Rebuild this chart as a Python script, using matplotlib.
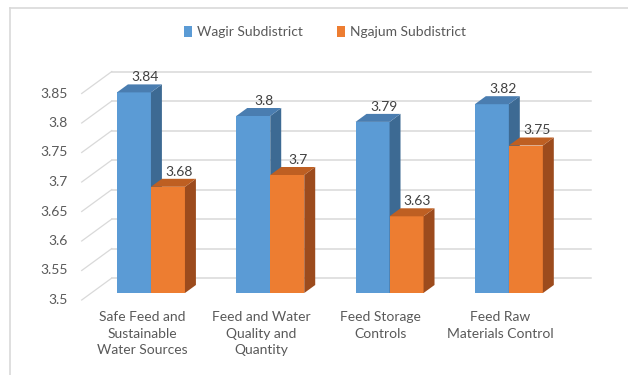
import matplotlib
matplotlib.use("Agg")
import matplotlib.pyplot as plt
from matplotlib.patches import Polygon, Patch
from matplotlib.lines import Line2D
from matplotlib.transforms import IdentityTransform
import numpy as np

plt.rcParams['font.family'] = ['Lato', 'DejaVu Sans']

# data
categories = ["Safe Feed and\nSustainable\nWater Sources",
              "Feed and Water\nQuality and\nQuantity",
              "Feed Storage\nControls",
              "Feed Raw\nMaterials Control"]
series_names = ["Wagir Subdistrict", "Ngajum Subdistrict"]
wagir = [3.84, 3.80, 3.79, 3.82]
ngajum = [3.68, 3.70, 3.63, 3.75]
value_labels = [["3.84", "3.8", "3.79", "3.82"], ["3.68", "3.7", "3.63", "3.75"]]
yticks = [3.5, 3.55, 3.6, 3.65, 3.7, 3.75, 3.8, 3.85]
ytick_labels = ["3.5", "3.55", "3.6", "3.65", "3.7", "3.75", "3.8", "3.85"]

# colours: front, side, top
blue = ("#5B9BD5", "#3D6A93", "#4A7DB0")
orange = ("#ED7D31", "#9C4B1D", "#BE5F22")
grid_c = "#D9D9D9"
text_c = "#595959"

W, H = 628, 375
fig = plt.figure(figsize=(W / 100, H / 100), dpi=100)

# axes = front plane of the bars (pixels)
base_px = 82          # y of 3.5 (from bottom)
px_per_unit = 590
ymin, ymax = 3.5, 3.9
xmin, xmax = -0.5, 3.52
left_px, width_px = 91.3, 119.3 * (xmax - xmin)
ax = fig.add_axes([left_px / W, base_px / H, width_px / W,
                   px_per_unit * (ymax - ymin) / H])
ax.set_xlim(xmin, xmax)
ax.set_ylim(ymin, ymax)
ax.axis('off')

ident = IdentityTransform()
DX = 1.37  # horizontal shift per unit of depth


def pt(x, y, t=0.0):
    px, py = ax.transData.transform((x, y))
    return (px + DX * t, py + t)


# frame (top and left edges only visible)
fig.add_artist(Line2D([10, W], [H - 8, H - 8], transform=ident, color=grid_c, lw=1.2))
fig.add_artist(Line2D([10, 10], [0, H - 8], transform=ident, color=grid_c, lw=1.2))

# back wall gridlines + side wall diagonals
T_FRONT, T_BACK = -7, 15
for v, lab in zip(yticks, ytick_labels):
    a = pt(xmin, v, T_FRONT)
    b = pt(xmin, v, T_BACK)
    c = pt(xmax, v, T_BACK)
    ax.add_line(Line2D([a[0], b[0]], [a[1], b[1]], transform=ident,
                       color=grid_c, lw=0.9, clip_on=False, zorder=0))
    ax.add_line(Line2D([b[0], c[0]], [b[1], c[1]], transform=ident,
                       color=grid_c, lw=1.1, clip_on=False, zorder=0))
    ax.text(a[0] - 14, a[1], lab, transform=ident, ha='right', va='center',
            fontsize=10, color=text_c)

# bars
width = 0.285
x = np.arange(len(categories))
BD = 8  # bar depth
for s, (vals, cols) in enumerate([(wagir, blue), (ngajum, orange)]):
    for i, v in enumerate(vals):
        x0 = x[i] - width + s * width
        x1 = x0 + width
        ax.bar(x0, v - ymin, width=width, bottom=ymin, align='edge',
               color=cols[0], zorder=2 + s * 3)
        side = [pt(x1, ymin), pt(x1, v), pt(x1, v, BD), pt(x1, ymin, BD)]
        ax.add_patch(Polygon(side, closed=True, transform=ident, facecolor=cols[1],
                             edgecolor='none', clip_on=False, zorder=3 + s * 3))
        top = [pt(x0, v), pt(x1, v), pt(x1, v, BD), pt(x0, v, BD)]
        ax.add_patch(Polygon(top, closed=True, transform=ident, facecolor=cols[2],
                             edgecolor='none', clip_on=False, zorder=4 + s * 3))
        lx, ly = pt((x0 + x1) / 2, v, BD)
        ax.text(lx, ly + 1, value_labels[s][i], transform=ident, ha='center',
                va='bottom', fontsize=10, color='#404040', zorder=10)

# category labels
for i, lab in enumerate(categories):
    cx, _ = pt(x[i], ymin)
    ax.text(cx - 9, H - 311, lab, transform=ident, ha='center', va='top',
            fontsize=10, color=text_c, linespacing=1.45)

# legend
handles = [Patch(facecolor=blue[0]), Patch(facecolor=orange[0])]
fig.legend(handles, series_names, loc='center', bbox_to_anchor=(325 / W, 1 - 32 / H),
           ncol=2, frameon=False, fontsize=10, labelcolor=text_c,
           handlelength=0.6, handleheight=0.8, handletextpad=0.4, columnspacing=2.4)

fig.savefig("out.png", dpi=100)
